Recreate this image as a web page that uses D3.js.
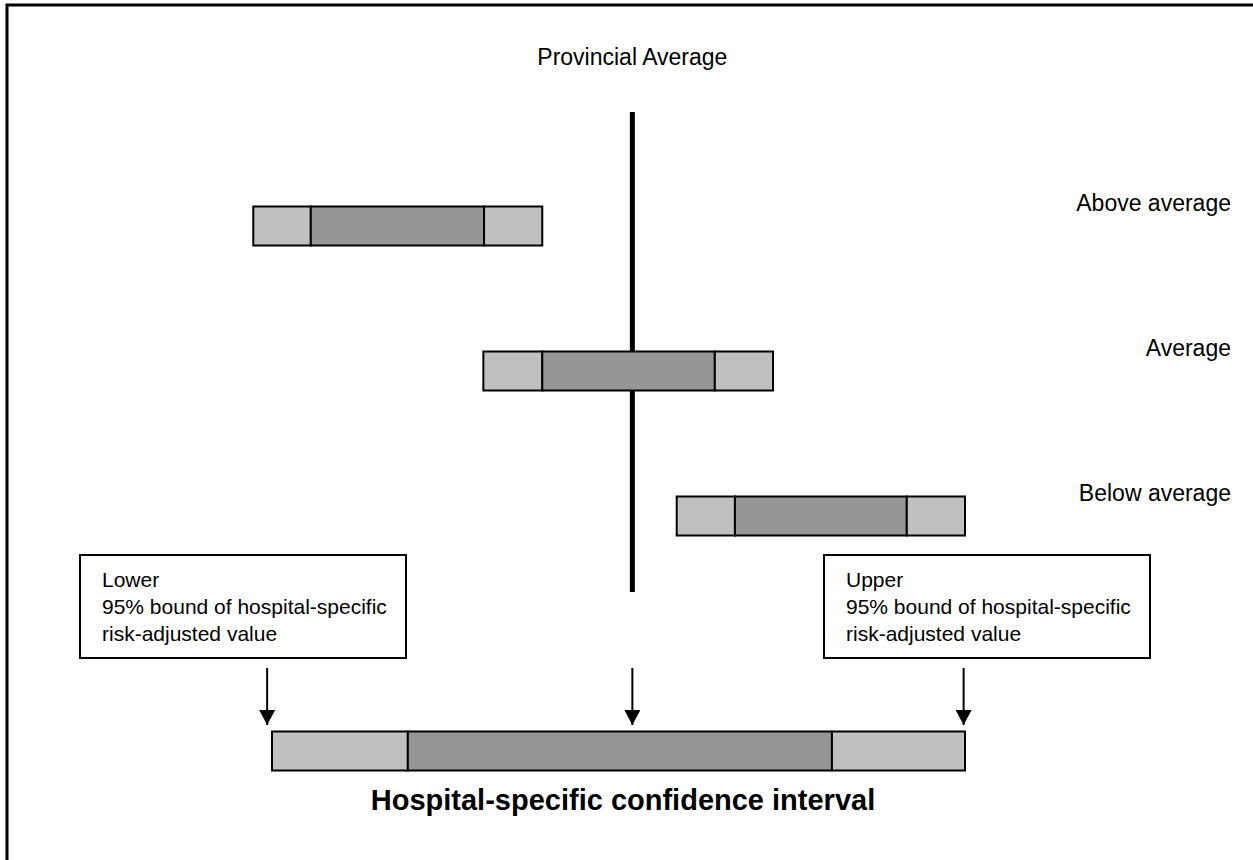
<!DOCTYPE html>
<html>
<head>
	<title>Hospital-specific confidence interval</title>
	<script src="https://cdn.jsdelivr.net/npm/d3@7/dist/d3.min.js" charset="utf-8"></script>
	<style>
		body { margin: 0; background: #fff; }
		text { font-family: "Liberation Sans", Arial, sans-serif; fill: #000; }
	</style>
</head>
<body>
<script type="text/javascript">
	var svgWidth = 1253,
	    svgHeight = 860;

	// rows of the example diagram
	var rows = ["Above average", "Average", "Below average"];
	// interval ends, in units where the reference bar goes 0..100
	var lowerBound = [-2.7, 30.5, 58.4];
	var lowerInner = [5.6, 39.0, 66.8];
	var upperInner = [30.6, 63.9, 91.6];
	var upperBound = [39.0, 72.3, 100];

	// the big bar at the bottom
	var ciBar = [0, 19.6, 80.8, 100];
	var provincialAverage = 52.0;
	var arrowTargets = [-0.7, 52.0, 99.8];

	var boxTexts = [
		["Lower", "95% bound of hospital-specific", "risk-adjusted value"],
		["Upper", "95% bound of hospital-specific", "risk-adjusted value"]
	];

	var svg = d3.select("body")
		.append("svg")
		.attr("width", svgWidth)
		.attr("height", svgHeight);

	var x = d3.scaleLinear().domain([0, 100]).range([272, 965]);
	var y = d3.scalePoint().domain(rows).range([226, 516]);
	var barH = 39;

	var light = "#c0c0c0", dark = "#969696";

	// outer frame (right and bottom edges fall off the page)
	svg.append("rect")
		.attr("x", 7).attr("y", 5)
		.attr("width", 1280).attr("height", 900)
		.attr("fill", "none").attr("stroke", "#000").attr("stroke-width", 3);

	svg.append("text")
		.attr("x", x(provincialAverage)).attr("y", 65)
		.attr("text-anchor", "middle")
		.style("font-size", "23px")
		.text("Provincial Average");

	// provincial average line
	svg.append("line")
		.attr("x1", x(provincialAverage)).attr("x2", x(provincialAverage))
		.attr("y1", 112).attr("y2", 592)
		.attr("stroke", "#000").attr("stroke-width", 5);

	var data = rows.map(function(r, i) {
		return {row: r, segs: [lowerBound[i], lowerInner[i], upperInner[i], upperBound[i]]};
	});

	function drawBar(g, segs, cy) {
		var fills = [light, dark, light];
		for (var k = 0; k < 3; k++) {
			g.append("rect")
				.attr("x", x(segs[k]))
				.attr("y", cy - barH / 2)
				.attr("width", x(segs[k + 1]) - x(segs[k]))
				.attr("height", barH)
				.attr("fill", fills[k])
				.attr("stroke", "#000")
				.attr("stroke-width", 2);
		}
	}

	data.forEach(function(d) {
		drawBar(svg.append("g"), d.segs, y(d.row));
	});

	svg.selectAll(".rowlabel")
		.data(rows)
		.enter()
		.append("text")
		.attr("class", "rowlabel")
		.attr("x", 1231)
		.attr("y", function(d) { return y(d) - 15; })
		.attr("text-anchor", "end")
		.style("font-size", "23px")
		.text(function(d) { return d; });

	// explanation boxes
	var boxX = [80, 824], boxW = 326, boxTop = 555, boxH = 103;
	boxTexts.forEach(function(lines, i) {
		var g = svg.append("g");
		g.append("rect")
			.attr("x", boxX[i]).attr("y", boxTop)
			.attr("width", boxW).attr("height", boxH)
			.attr("fill", "#fff").attr("stroke", "#000").attr("stroke-width", 2);
		g.selectAll("text")
			.data(lines)
			.enter()
			.append("text")
			.attr("x", boxX[i] + 22)
			.attr("y", function(d, j) { return 587 + j * 27; })
			.style("font-size", "21px")
			.text(function(d) { return d; });
	});

	// arrows
	svg.append("defs").append("marker")
		.attr("id", "head")
		.attr("viewBox", "0 0 16 15")
		.attr("refX", 8).attr("refY", 15)
		.attr("markerWidth", 16).attr("markerHeight", 15)
		.attr("markerUnits", "userSpaceOnUse")
		.attr("orient", "0")
		.append("path")
		.attr("d", "M0,0L16,0L8,15Z")
		.attr("fill", "#000");

	svg.selectAll(".arrow")
		.data(arrowTargets)
		.enter()
		.append("line")
		.attr("class", "arrow")
		.attr("x1", function(d) { return x(d); })
		.attr("x2", function(d) { return x(d); })
		.attr("y1", 668).attr("y2", 725)
		.attr("stroke", "#000").attr("stroke-width", 2)
		.attr("marker-end", "url(#head)");

	drawBar(svg.append("g"), ciBar, 751);

	svg.append("text")
		.attr("x", 623).attr("y", 810)
		.attr("text-anchor", "middle")
		.style("font-size", "29px")
		.style("font-weight", "bold")
		.text("Hospital-specific confidence interval");
</script>
</body>
</html>
